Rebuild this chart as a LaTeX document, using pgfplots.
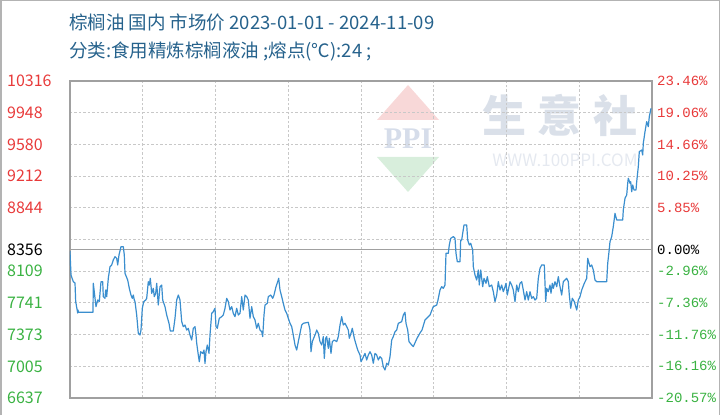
\documentclass[border=0pt]{standalone}
\usepackage{pgfplots}
\pgfplotsset{compat=1.18}
\usepackage{fontspec}
\setmainfont{Noto Sans CJK SC}
\newfontfamily\monofont{Liberation Mono}
\newfontfamily\serifbold{Liberation Serif}
\definecolor{titleblue}{RGB}{38,98,140}
\definecolor{upred}{RGB}{232,58,58}
\definecolor{downgreen}{RGB}{58,178,66}
\definecolor{linecol}{RGB}{58,142,206}
\definecolor{gridcol}{RGB}{200,200,200}
\definecolor{framecol}{RGB}{160,160,160}
\definecolor{wmred}{RGB}{248,216,216}
\definecolor{wmgreen}{RGB}{216,238,220}
\definecolor{wmblue}{RGB}{214,221,234}
\definecolor{wmgray}{RGB}{218,224,233}

\pgfplotstableread{
x y
70 8340
71 8064
73.3 7987
75 7972
75.7 7755
77.7 7623
78 7658
78.5 7632
93 7632
93.3 7968
95 7797
96 7697
97.7 7774
99.3 7755
101 7987
102.7 7987
103.3 7813
105 7794
105.7 7890
106.7 7813
108.3 8026
110 8161
111.7 8181
113.3 8239
115 8277
116.7 8258
117.7 8181
119 8297
121 8393
123.3 8393
124.3 8297
125 8084
127.7 8006
129.3 7910
131 7832
132.3 7794
133.3 7832
134.3 7774
135 7755
136.7 7600
138.3 7388
140 7368
141 7426
142.3 7678
143.7 7755
145.7 7774
146.7 7794
148.3 7987
149.3 7948
150.3 8026
151.7 7852
153.3 7910
154.3 7813
155.7 7852
156.7 7968
158.3 7716
160 7929
161.7 7948
162.7 7774
165 7697
166.7 7600
169 7504
170.3 7414
173.3 7414
175 7562
176.7 7774
178.3 7832
180 7774
181.7 7523
183.3 7465
185 7484
186.7 7426
188.3 7446
190 7368
191.7 7310
193.3 7446
195 7465
196 7368
196.7 7272
198.3 7136
199.3 7058
200.7 7174
202.7 7155
204 7194
205 7038
206 7174
207.3 7252
209 7155
210 7368
211.7 7620
213.3 7639
215 7678
216 7465
217.3 7446
219.3 7562
221.7 7581
223.3 7600
225 7678
226.7 7794
228.3 7755
230 7658
231.7 7697
233.3 7620
235 7581
236.7 7678
238.3 7600
240 7620
241.7 7813
243.3 7658
245 7832
246.7 7813
248.3 7774
250 7562
251.7 7697
253.3 7581
255 7542
256.7 7446
258.3 7504
260 7426
261.7 7407
262.7 7349
264 7600
265 7716
267.3 7736
268.3 7813
270.7 7832
272.7 7794
274 7832
276 7929
277.7 7987
278.7 8026
280 7890
281.7 7813
283.3 7736
285 7658
286.7 7620
288.3 7562
290 7504
291.7 7465
293.3 7368
295 7252
296.7 7194
298.3 7291
300 7388
301.7 7484
303.3 7504
308.3 7516
310 7426
311 7174
312.3 7291
314.3 7349
315.7 7388
316.7 7426
318.3 7388
320 7291
321.7 7252
323.3 7349
324.3 7097
325.7 7330
326.7 7349
328.3 7213
329.3 7330
331 7155
332.3 7291
334.3 7310
336.7 7291
338.3 7349
340 7484
341.7 7581
343.3 7484
345 7504
346.7 7465
348.3 7426
349.3 7330
351 7388
352.3 7446
354.3 7330
355.7 7272
357.7 7194
360 7136
361 7058
362.7 7097
365 7155
366.7 7078
368.3 7136
370 7174
371.7 7136
373.3 7040
375 7155
376.7 7136
378.3 7078
380 7116
381.7 7097
383.3 6999
385 6962
386.7 7040
388.3 7020
390 7116
391.7 7310
393.3 7349
395 7407
396.7 7426
398.3 7504
401.7 7523
403.3 7600
405 7632
406 7504
407.7 7426
409 7291
411.7 7252
413.3 7233
417 7330
420 7391
422 7426
425 7542
430 7600
433.3 7697
436.7 7716
438 7774
440 7890
441.7 7929
443.3 7910
445 7948
446 8316
448.3 8316
449.3 8413
450.7 8490
453.3 8510
455 8490
456 8316
457.3 8219
460 8219
460.7 8471
461.7 8471
462.7 8548
464 8645
466.7 8645
467.7 8471
469.3 8413
470.7 8432
472.7 8355
473.3 8161
475 8064
476.7 8006
478.3 8123
479.3 7948
480.7 8123
482.7 7929
484 8026
486 7968
487.3 8045
489.3 7929
491.7 7948
493.3 7871
495 7755
496.7 7832
498.3 7987
500 7890
501.7 7948
503.3 7871
505 7929
506 7968
507.3 7832
508.3 7890
510 7987
511.7 7948
513.3 7890
515 7755
516.7 7948
518.3 7871
520 7968
521.7 7987
523.3 7890
525 7774
526.7 7871
528.3 7774
530 7871
531.7 7794
533.3 7813
535 7774
536.7 7794
538.3 8026
540 8142
541.7 8181
544.3 8181
545.7 7755
546.7 7910
548.3 7871
550 7948
551 7852
552.3 7968
553.3 7910
555 7987
556.7 7929
558.3 8045
560 7929
561.7 7832
563.3 7987
565 8006
566.7 8026
568.3 7987
569.3 7832
570.7 7678
572.3 7794
574.3 7755
576.7 7658
578.3 7774
580 7813
581.7 7890
584.3 7968
586.7 8026
587.7 8258
590 8161
591.7 8181
593.3 8123
595 8006
596.7 7987
606.7 7987
607.7 8200
609 8335
610 8451
611.7 8510
613.3 8626
615 8780
616.7 8703
622.7 8703
623.3 8819
625 8955
626.7 8993
627.7 9129
628.3 9187
630 9129
630.7 9148
631.7 9031
632.7 9109
634 9051
636 9051
636.7 9148
638.3 9322
639.3 9496
641.7 9515
642.7 9457
643.3 9593
645 9728
646.7 9844
648.3 9786
649.3 9902
651 9999
}\pricedata

\begin{document}
\begin{tikzpicture}[x=1pt,y=1pt]
\useasboundingbox (0,0) rectangle (720,415);
\draw[framecol!80, line width=1.5pt] (0.75,0) -- (0.75,414.25) -- (719.25,414.25) -- (719.25,0);
% titles
\node[anchor=west, inner sep=0pt, text=titleblue, font=\fontsize{18.5}{18.5}\selectfont] at (69,393) {棕榈油 国内 市场价 2023-01-01 - 2024-11-09};
\node[anchor=west, inner sep=0pt, text=titleblue, font=\fontsize{18.5}{18.5}\selectfont] at (69,364) {分类:食用精炼棕榈液油 ;熔点(℃):24 ;};
% watermark
\fill[wmred] (377,295) -- (439,295) -- (408,330) -- cycle;
\fill[wmgreen] (377,258) -- (439,258) -- (408,223) -- cycle;
\node[text=wmblue, font=\serifbold\bfseries\fontsize{30}{30}\selectfont, inner sep=0pt] at (408,276) {PPI};
\node[text=wmgray, font=\bfseries\fontsize{44}{44}\selectfont, inner sep=0pt] at (560,300) {生\hspace{12pt}意\hspace{12pt}社};
\node[text=wmgray!70, font=\fontsize{17}{17}\selectfont, inner sep=0pt] at (565,255) {WWW.100PPI.COM};

\begin{axis}[
  at={(70pt,17pt)}, anchor=south west, scale only axis,
  width=582pt, height=317pt,
  xmin=70, xmax=652, ymin=6637, ymax=10316,
  scaled y ticks=false, scaled x ticks=false,
  axis line style={framecol, line width=1.2pt},
  xtick={142.75,215.5,288.25,361,433.75,506.5,579.25},
  xticklabels={},
  ytick={6637,7004.9,7372.8,7740.7,8108.6,8476.5,8844.4,9212.3,9580.2,9948.1,10316},
  yticklabels={\textcolor{downgreen}{6637},\textcolor{downgreen}{7005},\textcolor{downgreen}{7373},\textcolor{downgreen}{7741},\textcolor{downgreen}{8109},{},\textcolor{upred}{8844},\textcolor{upred}{9212},\textcolor{upred}{9580},\textcolor{upred}{9948},\textcolor{upred}{10316}},
  extra y ticks={8356},
  extra y tick labels={8356},
  extra y tick style={grid style={solid, framecol, line width=1.2pt}},
  grid=major,
  grid style={gridcol, line width=0.8pt, dash pattern=on 2.5pt off 2pt},
  major tick length=0pt,
  yticklabel style={anchor=west, inner sep=0pt, xshift=-63pt, font=\fontsize{16}{16}\selectfont},
  clip=true,
]
\addplot[linecol, line width=1.2pt, line join=round] table[x=x, y=y] {\pricedata};
\end{axis}

\begin{axis}[
  at={(70pt,17pt)}, anchor=south west, scale only axis,
  width=582pt, height=317pt,
  xmin=70, xmax=652, ymin=6637, ymax=10316,
  scaled y ticks=false, scaled x ticks=false,
  axis y line*=right, axis x line=none,
  axis line style={draw=none},
  ytick={6637,7004.9,7372.8,7740.7,8108.6,8476.5,8844.4,9212.3,9580.2,9948.1,10316},
  yticklabels={\textcolor{downgreen}{-20.57\%},\textcolor{downgreen}{-16.16\%},\textcolor{downgreen}{-11.76\%},\textcolor{downgreen}{-7.36\%},\textcolor{downgreen}{-2.96\%},{},\textcolor{upred}{5.85\%},\textcolor{upred}{10.25\%},\textcolor{upred}{14.66\%},\textcolor{upred}{19.06\%},\textcolor{upred}{23.46\%}},
  extra y ticks={8356},
  extra y tick labels={0.00\%},
  major tick length=0pt,
  yticklabel style={anchor=west, inner sep=0pt, xshift=5pt, font=\monofont\fontsize{14}{14}\selectfont},
]
\addplot[draw=none] coordinates {(70,8356)};
\end{axis}
\end{tikzpicture}
\end{document}
